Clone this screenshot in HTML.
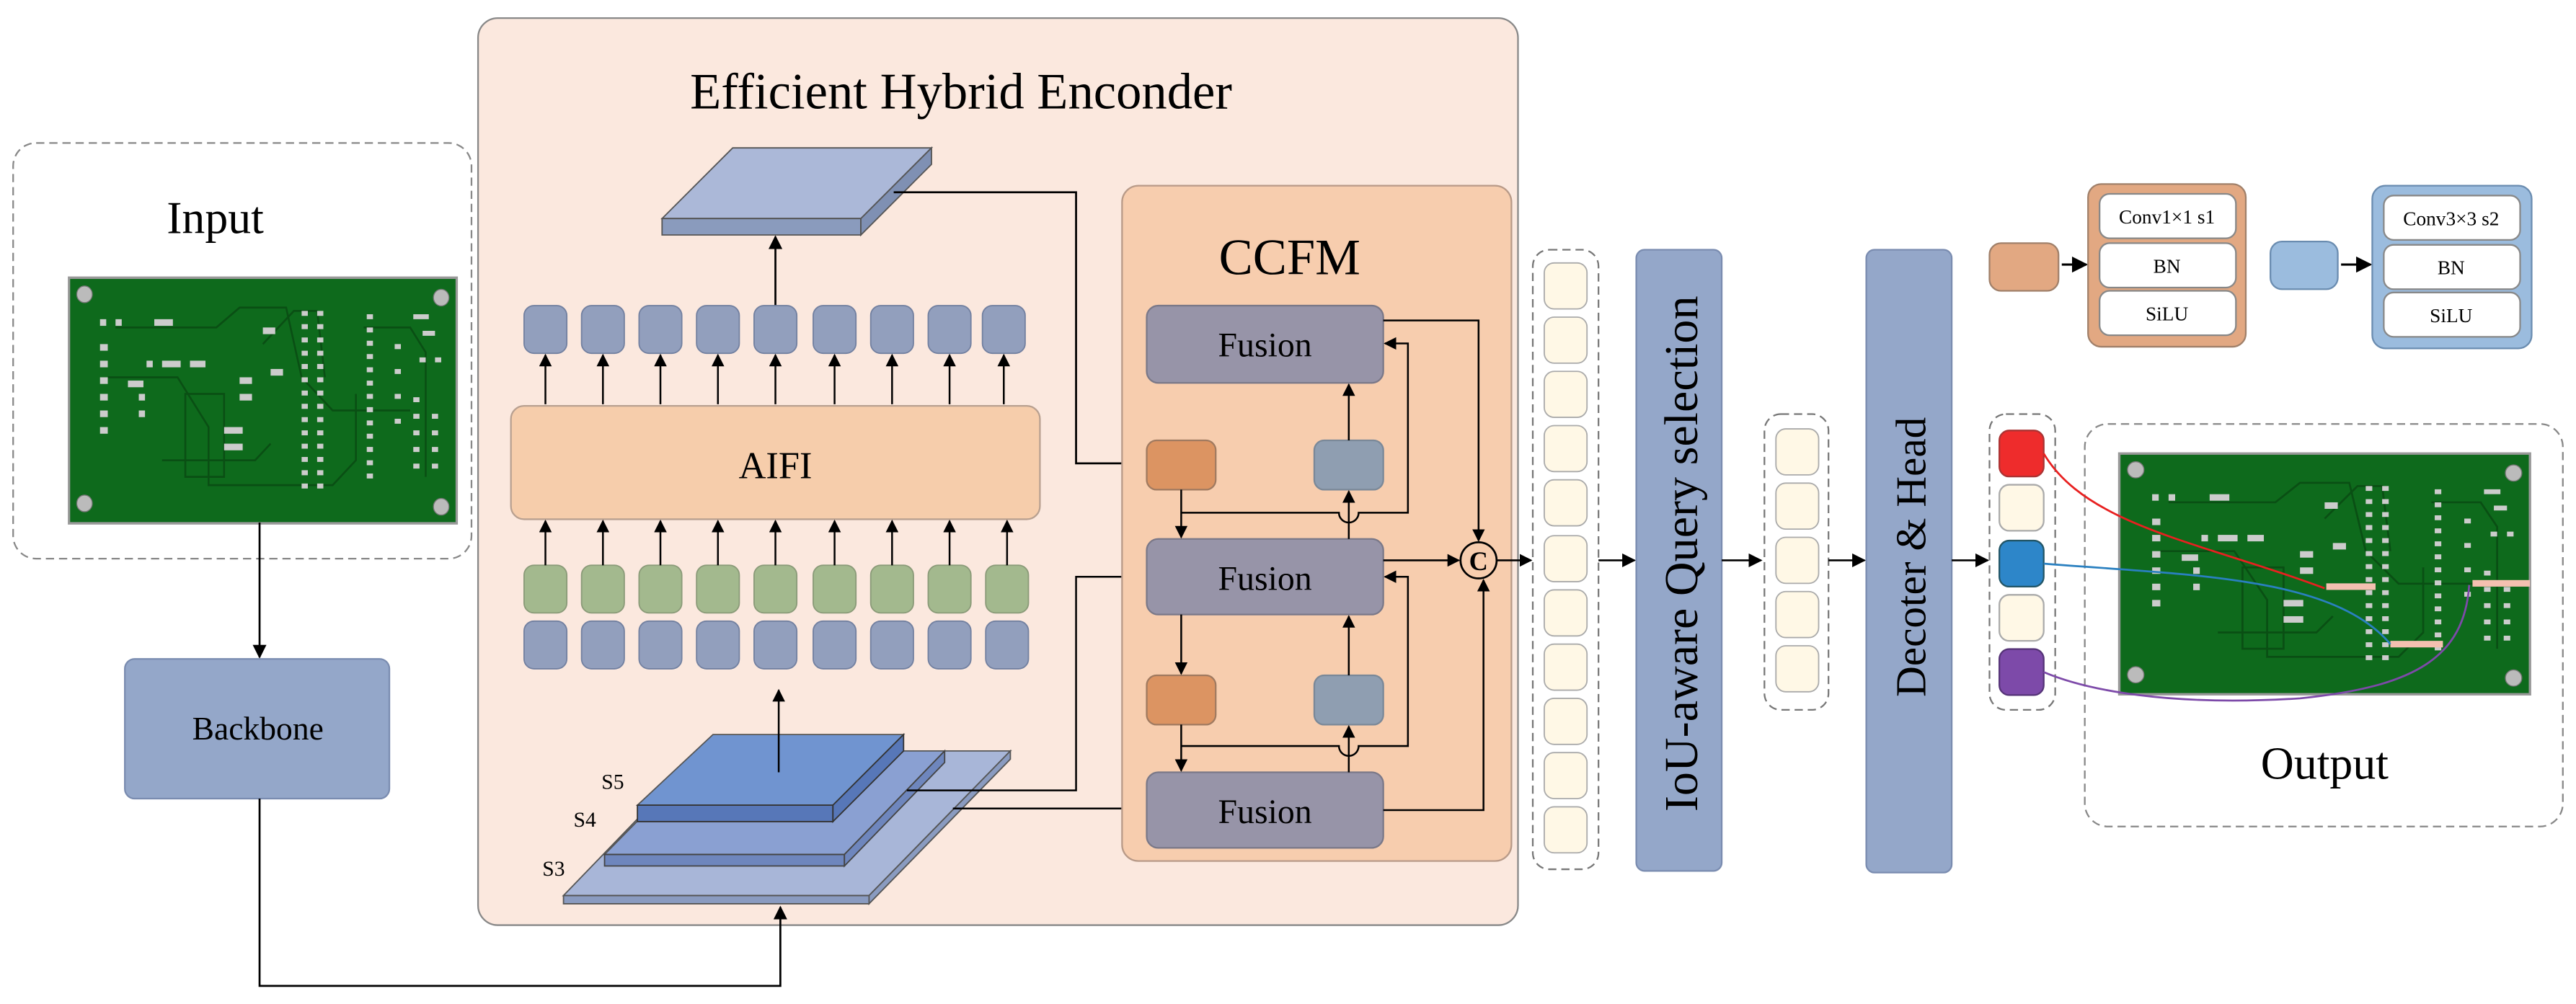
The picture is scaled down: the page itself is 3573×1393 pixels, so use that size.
<!DOCTYPE html>
<html><head><meta charset="utf-8"><style>html,body{margin:0;padding:0;background:#fff}svg{display:block}</style></head>
<body>
<svg width="3573" height="1393" viewBox="0 0 1568 611" preserveAspectRatio="none" xmlns="http://www.w3.org/2000/svg" font-family="'Liberation Serif', serif">
<defs>
<marker id="a" viewBox="0 0 10 10" refX="9" refY="5" markerWidth="7" markerHeight="7" orient="auto"><path d="M0,0 L10,5 L0,10 z" fill="#000"/></marker>
<g id="pcb">
<rect x="0" y="0" width="250" height="148" fill="#0e6a1c" stroke="#999" stroke-width="1.5"/>
<g fill="#bbb" stroke="#777" stroke-width="0.6">
<circle cx="10" cy="10" r="5"/><circle cx="240" cy="12" r="5"/><circle cx="10" cy="136" r="5"/><circle cx="240" cy="138" r="5"/>
</g>
<g fill="none" stroke="#0a4f14" stroke-width="1.2">
<path d="M30,30 H95 L110,18 H140 L150,60 L170,80 H220"/>
<path d="M25,60 H70 L90,90 V125 H170 L185,110 V70"/>
<path d="M125,40 L145,20 H160 L165,60"/>
<path d="M190,30 H220 L230,45 V120"/>
<path d="M60,110 H120 L130,100"/>
<rect x="75" y="70" width="25" height="50"/>
</g>
<g fill="#ccc">
<rect x="20" y="25" width="4" height="4"/><rect x="30" y="25" width="4" height="4"/><rect x="55" y="25" width="12" height="4"/>
<rect x="20" y="40" width="5" height="4"/><rect x="20" y="50" width="5" height="4"/><rect x="20" y="60" width="5" height="4"/><rect x="20" y="70" width="5" height="4"/><rect x="20" y="80" width="5" height="4"/><rect x="20" y="90" width="5" height="4"/>
<rect x="38" y="62" width="10" height="4"/><rect x="50" y="50" width="4" height="4"/><rect x="60" y="50" width="12" height="4"/><rect x="78" y="50" width="10" height="4"/>
<rect x="45" y="70" width="4" height="4"/><rect x="45" y="80" width="4" height="4"/><rect x="110" y="60" width="8" height="4"/><rect x="110" y="70" width="8" height="4"/>
<rect x="100" y="90" width="12" height="4"/><rect x="100" y="100" width="12" height="4"/><rect x="130" y="55" width="8" height="4"/><rect x="125" y="30" width="8" height="4"/>
</g>
<g fill="#ccc">
<path d="M150,20 h4 v3 h-4z M150,28 h4 v3 h-4z M150,36 h4 v3 h-4z M150,44 h4 v3 h-4z M150,52 h4 v3 h-4z M150,60 h4 v3 h-4z M150,68 h4 v3 h-4z M150,76 h4 v3 h-4z M150,84 h4 v3 h-4z M150,92 h4 v3 h-4z M150,100 h4 v3 h-4z M150,108 h4 v3 h-4z M150,116 h4 v3 h-4z M150,124 h4 v3 h-4z"/>
<path d="M160,20 h4 v3 h-4z M160,28 h4 v3 h-4z M160,36 h4 v3 h-4z M160,44 h4 v3 h-4z M160,52 h4 v3 h-4z M160,60 h4 v3 h-4z M160,68 h4 v3 h-4z M160,76 h4 v3 h-4z M160,84 h4 v3 h-4z M160,92 h4 v3 h-4z M160,100 h4 v3 h-4z M160,108 h4 v3 h-4z M160,116 h4 v3 h-4z M160,124 h4 v3 h-4z"/>
<path d="M192,22 h4 v3 h-4z M192,30 h4 v3 h-4z M192,38 h4 v3 h-4z M192,46 h4 v3 h-4z M192,54 h4 v3 h-4z M192,62 h4 v3 h-4z M192,70 h4 v3 h-4z M192,78 h4 v3 h-4z M192,86 h4 v3 h-4z M192,94 h4 v3 h-4z M192,102 h4 v3 h-4z M192,110 h4 v3 h-4z M192,118 h4 v3 h-4z"/>
<path d="M210,40 h4 v3 h-4z M210,55 h4 v3 h-4z M210,70 h4 v3 h-4z M210,85 h4 v3 h-4z M222,22 h10 v3 h-10z M228,32 h8 v3 h-8z M226,48 h4 v3 h-4z M236,48 h4 v3 h-4z M222,72 h4 v3 h-4z M222,82 h4 v3 h-4z M222,92 h4 v3 h-4z M222,102 h4 v3 h-4z M222,112 h4 v3 h-4z M234,82 h4 v3 h-4z M234,92 h4 v3 h-4z M234,102 h4 v3 h-4z M234,112 h4 v3 h-4z"/>
</g>
</g>
</defs>

<rect x="8" y="87" width="279" height="253" rx="14" fill="#fff" stroke="#888" stroke-width="1" stroke-dasharray="5,3"/>
<text x="131" y="142" font-size="28" text-anchor="middle">Input</text>
<use href="#pcb" transform="translate(42,169) scale(0.944,1.01)"/>
<line x1="158" y1="318" x2="158" y2="400" stroke="#000" stroke-width="1.2" marker-end="url(#a)"/>
<rect x="76" y="401" width="161" height="85" rx="6" fill="#94a7c9" stroke="#7a8cb0"/>
<text x="157" y="450" font-size="20" text-anchor="middle">Backbone</text>

<rect x="291" y="11" width="633" height="552" rx="12" fill="#fbe8de" stroke="#888" stroke-width="1"/>
<text x="585" y="66" font-size="31" text-anchor="middle">Efficient Hybrid Enconder</text>

<polygon points="403,133 446,90 567,90 524,133" fill="#abb8d8" stroke="#555" stroke-width="0.8"/>
<polygon points="403,133 524,133 524,143 403,143" fill="#8a9bbd" stroke="#555" stroke-width="0.8"/>
<polygon points="524,133 567,90 567,100 524,143" fill="#7f90b3" stroke="#555" stroke-width="0.8"/>
<line x1="472" y1="186" x2="472" y2="144" stroke="#000" stroke-width="1.2" marker-end="url(#a)"/>
<path d="M544,117 H655 V282 H697" fill="none" stroke="#000" stroke-width="1.2" marker-end="url(#a)"/>

<g stroke="#7280a0" stroke-width="0.8">
<g fill="#929fbd">
<rect x="319" y="186" width="26" height="29" rx="6"/><rect x="354" y="186" width="26" height="29" rx="6"/><rect x="389" y="186" width="26" height="29" rx="6"/><rect x="424" y="186" width="26" height="29" rx="6"/><rect x="459" y="186" width="26" height="29" rx="6"/><rect x="495" y="186" width="26" height="29" rx="6"/><rect x="530" y="186" width="26" height="29" rx="6"/><rect x="565" y="186" width="26" height="29" rx="6"/><rect x="598" y="186" width="26" height="29" rx="6"/>
<rect x="319" y="378" width="26" height="29" rx="6"/><rect x="354" y="378" width="26" height="29" rx="6"/><rect x="389" y="378" width="26" height="29" rx="6"/><rect x="424" y="378" width="26" height="29" rx="6"/><rect x="459" y="378" width="26" height="29" rx="6"/><rect x="495" y="378" width="26" height="29" rx="6"/><rect x="530" y="378" width="26" height="29" rx="6"/><rect x="565" y="378" width="26" height="29" rx="6"/><rect x="600" y="378" width="26" height="29" rx="6"/>
</g>
<g fill="#a3b98e" stroke="#8a9a78">
<rect x="319" y="344" width="26" height="29" rx="6"/><rect x="354" y="344" width="26" height="29" rx="6"/><rect x="389" y="344" width="26" height="29" rx="6"/><rect x="424" y="344" width="26" height="29" rx="6"/><rect x="459" y="344" width="26" height="29" rx="6"/><rect x="495" y="344" width="26" height="29" rx="6"/><rect x="530" y="344" width="26" height="29" rx="6"/><rect x="565" y="344" width="26" height="29" rx="6"/><rect x="600" y="344" width="26" height="29" rx="6"/>
</g>
</g>
<rect x="311" y="247" width="322" height="69" rx="8" fill="#f6cdab" stroke="#b8a090"/>
<text x="472" y="291" font-size="23" text-anchor="middle">AIFI</text>
<g stroke="#000" stroke-width="1.1" marker-end="url(#a)">
<line x1="332" y1="246" x2="332" y2="216"/><line x1="367" y1="246" x2="367" y2="216"/><line x1="402" y1="246" x2="402" y2="216"/><line x1="437" y1="246" x2="437" y2="216"/><line x1="472" y1="246" x2="472" y2="216"/><line x1="508" y1="246" x2="508" y2="216"/><line x1="543" y1="246" x2="543" y2="216"/><line x1="578" y1="246" x2="578" y2="216"/><line x1="611" y1="246" x2="611" y2="216"/>
<line x1="332" y1="344" x2="332" y2="317"/><line x1="367" y1="344" x2="367" y2="317"/><line x1="402" y1="344" x2="402" y2="317"/><line x1="437" y1="344" x2="437" y2="317"/><line x1="472" y1="344" x2="472" y2="317"/><line x1="508" y1="344" x2="508" y2="317"/><line x1="543" y1="344" x2="543" y2="317"/><line x1="578" y1="344" x2="578" y2="317"/><line x1="613" y1="344" x2="613" y2="317"/>
</g>

<polygon points="343,545 428,457 615,457 529,545" fill="#a8b6d8" stroke="#555" stroke-width="0.8"/>
<polygon points="343,545 529,545 529,550 343,550" fill="#8a9bc0" stroke="#555" stroke-width="0.8"/>
<polygon points="529,545 615,457 615,462 529,550" fill="#8a9bc0" stroke="#555" stroke-width="0.8"/>
<polygon points="368,520 430,457 575,457 514,520" fill="#8aa0d2" stroke="#555" stroke-width="0.8"/>
<polygon points="368,520 514,520 514,527 368,527" fill="#6e86bd" stroke="#444" stroke-width="0.8"/>
<polygon points="514,520 575,457 575,464 514,527" fill="#6e86bd" stroke="#444" stroke-width="0.8"/>
<polygon points="388,490 434,447 550,447 507,490" fill="#7094d0" stroke="#555" stroke-width="0.8"/>
<polygon points="388,490 507,490 507,500 388,500" fill="#5777b8" stroke="#333" stroke-width="0.8"/>
<polygon points="507,490 550,447 550,457 507,500" fill="#5777b8" stroke="#333" stroke-width="0.8"/>
<text x="373" y="480" font-size="13" text-anchor="middle">S5</text>
<text x="356" y="503" font-size="13" text-anchor="middle">S4</text>
<text x="337" y="533" font-size="13" text-anchor="middle">S3</text>
<path d="M158,486 V600 H475 V552" fill="none" stroke="#000" stroke-width="1.2" marker-end="url(#a)"/>
<line x1="474" y1="470" x2="474" y2="420" stroke="#000" stroke-width="1.1" marker-end="url(#a)"/>
<path d="M552,481 H655 V351 H697" fill="none" stroke="#000" stroke-width="1.1" marker-end="url(#a)"/>
<path d="M580,492 H697" fill="none" stroke="#000" stroke-width="1.1" marker-end="url(#a)"/>

<rect x="683" y="113" width="237" height="411" rx="10" fill="#f7cdae" stroke="#b89a88"/>
<text x="785" y="167" font-size="31" text-anchor="middle">CCFM</text>
<g fill="#9794a8" stroke="#7a7888">
<rect x="698" y="186" width="144" height="47" rx="7"/>
<rect x="698" y="328" width="144" height="46" rx="7"/>
<rect x="698" y="470" width="144" height="46" rx="7"/>
</g>
<text x="770" y="217" font-size="21" text-anchor="middle">Fusion</text>
<text x="770" y="359" font-size="21" text-anchor="middle">Fusion</text>
<text x="770" y="501" font-size="21" text-anchor="middle">Fusion</text>
<g stroke="#a07a60" fill="#dc9462"><rect x="698" y="268" width="42" height="30" rx="6"/><rect x="698" y="411" width="42" height="30" rx="6"/></g>
<g stroke="#7a8898" fill="#8f9eb1"><rect x="800" y="268" width="42" height="30" rx="6"/><rect x="800" y="411" width="42" height="30" rx="6"/></g>
<g fill="none" stroke="#000" stroke-width="1.1">
<line x1="719" y1="298" x2="719" y2="327" marker-end="url(#a)"/>
<path d="M719,312 H815 A6,6 0 0 0 827,312 H857 V209 H843" marker-end="url(#a)"/>
<line x1="821" y1="268" x2="821" y2="234" marker-end="url(#a)"/>
<line x1="821" y1="328" x2="821" y2="299" marker-end="url(#a)"/>
<path d="M842,195 H900 V329" marker-end="url(#a)"/>
<line x1="842" y1="341" x2="888" y2="341" marker-end="url(#a)"/>
<line x1="719" y1="374" x2="719" y2="410" marker-end="url(#a)"/>
<path d="M719,454 H815 A6,6 0 0 0 827,454 H857 V351 H843" marker-end="url(#a)"/>
<line x1="821" y1="411" x2="821" y2="375" marker-end="url(#a)"/>
<line x1="821" y1="470" x2="821" y2="442" marker-end="url(#a)"/>
<line x1="719" y1="441" x2="719" y2="469" marker-end="url(#a)"/>
<path d="M842,493 H903 V353" marker-end="url(#a)"/>
<line x1="911" y1="341" x2="932" y2="341" marker-end="url(#a)"/>
</g>
<circle cx="900" cy="341" r="11" fill="#f7cdae" stroke="#000" stroke-width="1.2"/>
<text x="900" y="347" font-size="16" font-weight="bold" text-anchor="middle">C</text>

<rect x="933" y="152" width="40" height="377" rx="10" fill="#fff" stroke="#777" stroke-dasharray="5,3"/>
<g fill="#fff8e6" stroke="#aaa" stroke-width="0.8">
<rect x="940" y="160" width="26" height="28" rx="6"/><rect x="940" y="193" width="26" height="28" rx="6"/><rect x="940" y="226" width="26" height="28" rx="6"/><rect x="940" y="259" width="26" height="28" rx="6"/><rect x="940" y="292" width="26" height="28" rx="6"/><rect x="940" y="326" width="26" height="28" rx="6"/><rect x="940" y="359" width="26" height="28" rx="6"/><rect x="940" y="392" width="26" height="28" rx="6"/><rect x="940" y="425" width="26" height="28" rx="6"/><rect x="940" y="458" width="26" height="28" rx="6"/><rect x="940" y="491" width="26" height="28" rx="6"/>
</g>
<line x1="973" y1="341" x2="995" y2="341" stroke="#000" stroke-width="1.2" marker-end="url(#a)"/>
<rect x="996" y="152" width="52" height="378" rx="5" fill="#94a7c9" stroke="#7a8cb0"/>
<text transform="translate(1033,337) rotate(-90)" font-size="29" text-anchor="middle">IoU-aware Query selection</text>
<line x1="1048" y1="341" x2="1072" y2="341" stroke="#000" stroke-width="1.2" marker-end="url(#a)"/>
<rect x="1074" y="252" width="39" height="180" rx="10" fill="#fff" stroke="#777" stroke-dasharray="5,3"/>
<g fill="#fff8e6" stroke="#aaa" stroke-width="0.8">
<rect x="1081" y="261" width="26" height="28" rx="6"/><rect x="1081" y="294" width="26" height="28" rx="6"/><rect x="1081" y="327" width="26" height="28" rx="6"/><rect x="1081" y="360" width="26" height="28" rx="6"/><rect x="1081" y="393" width="26" height="28" rx="6"/>
</g>
<line x1="1113" y1="341" x2="1135" y2="341" stroke="#000" stroke-width="1.2" marker-end="url(#a)"/>
<rect x="1136" y="152" width="52" height="379" rx="5" fill="#94a7c9" stroke="#7a8cb0"/>
<text transform="translate(1172,339) rotate(-90)" font-size="26" text-anchor="middle">Decoter &amp; Head</text>
<line x1="1188" y1="341" x2="1210" y2="341" stroke="#000" stroke-width="1.2" marker-end="url(#a)"/>
<rect x="1211" y="252" width="40" height="180" rx="10" fill="#fff" stroke="#777" stroke-dasharray="5,3"/>
<rect x="1217" y="262" width="27" height="28" rx="6" fill="#ee2c2c" stroke="#a33"/>
<rect x="1217" y="295" width="27" height="28" rx="6" fill="#fff8e6" stroke="#aaa"/>
<rect x="1217" y="329" width="27" height="28" rx="6" fill="#2d86c9" stroke="#256"/>
<rect x="1217" y="362" width="27" height="28" rx="6" fill="#fff8e6" stroke="#aaa"/>
<rect x="1217" y="395" width="27" height="28" rx="6" fill="#7d4aa9" stroke="#537"/>

<rect x="1269" y="258" width="291" height="245" rx="14" fill="#fff" stroke="#888" stroke-dasharray="5,3"/>
<use href="#pcb" transform="translate(1290,276) scale(1.0,0.99)"/>
<rect x="1416" y="355" width="30" height="4" fill="#f4c0b0"/>
<rect x="1505" y="353" width="35" height="4" fill="#f4c0b0"/>
<rect x="1455" y="390" width="32" height="4" fill="#f4c0b0"/>
<path d="M1244,276 C1270,320 1340,330 1415,358" fill="none" stroke="#e82020" stroke-width="1.2"/>
<path d="M1244,343 C1330,350 1420,350 1455,392" fill="none" stroke="#2a80c0" stroke-width="1.2"/>
<path d="M1244,409 C1270,420 1320,430 1400,425 C1470,418 1500,400 1503,356" fill="none" stroke="#7d4aa9" stroke-width="1.2"/>
<text x="1415" y="474" font-size="28" text-anchor="middle">Output</text>

<rect x="1211" y="148" width="42" height="29" rx="7" fill="#e2a882" stroke="#a0806a"/>
<line x1="1255" y1="161" x2="1270" y2="161" stroke="#000" stroke-width="1.4" marker-end="url(#a)"/>
<rect x="1271" y="112" width="96" height="99" rx="8" fill="#e2a882" stroke="#a0806a"/>
<g fill="#fff" stroke="#888"><rect x="1278" y="118" width="83" height="27" rx="6"/><rect x="1278" y="148" width="83" height="27" rx="6"/><rect x="1278" y="177" width="83" height="27" rx="6"/></g>
<text x="1319" y="136" font-size="12" text-anchor="middle">Conv1×1 s1</text>
<text x="1319" y="166" font-size="12" text-anchor="middle">BN</text>
<text x="1319" y="195" font-size="12" text-anchor="middle">SiLU</text>
<rect x="1382" y="147" width="41" height="29" rx="7" fill="#9bbcde" stroke="#6a8cb0"/>
<line x1="1425" y1="161" x2="1443" y2="161" stroke="#000" stroke-width="1.4" marker-end="url(#a)"/>
<rect x="1444" y="113" width="97" height="99" rx="8" fill="#9bbcde" stroke="#6a8cb0"/>
<g fill="#fff" stroke="#888"><rect x="1451" y="119" width="83" height="27" rx="6"/><rect x="1451" y="149" width="83" height="27" rx="6"/><rect x="1451" y="178" width="83" height="27" rx="6"/></g>
<text x="1492" y="137" font-size="12" text-anchor="middle">Conv3×3 s2</text>
<text x="1492" y="167" font-size="12" text-anchor="middle">BN</text>
<text x="1492" y="196" font-size="12" text-anchor="middle">SiLU</text>
</svg>
</body></html>
